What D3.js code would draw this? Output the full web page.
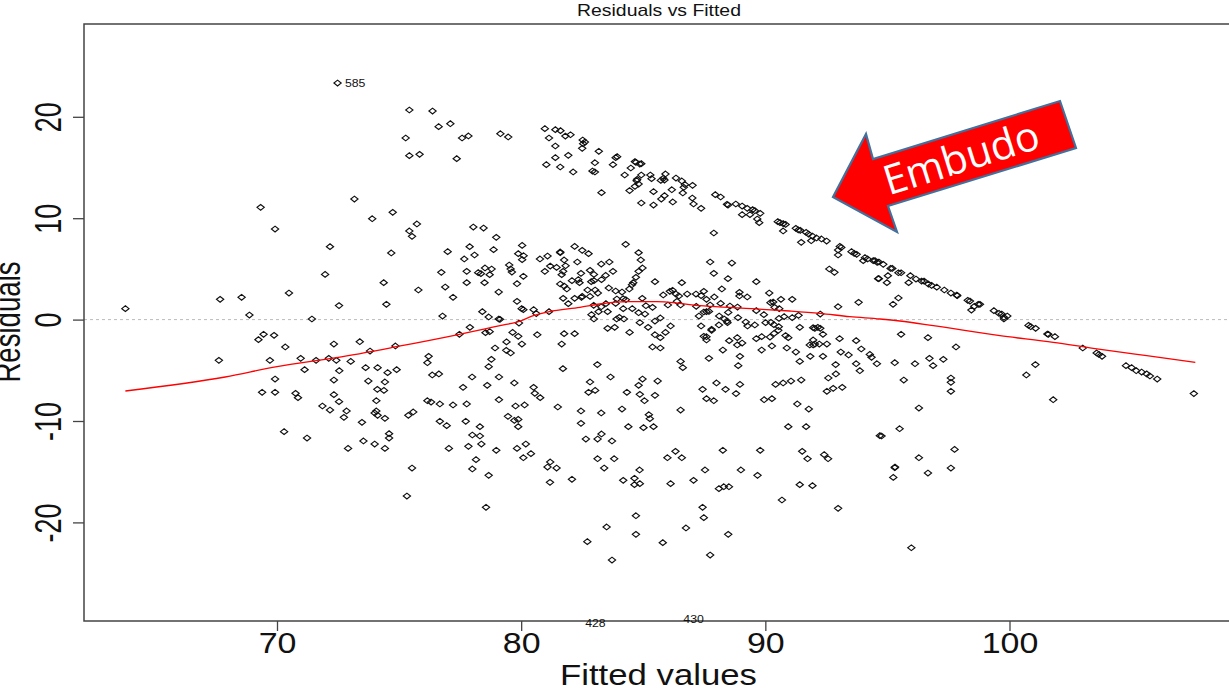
<!DOCTYPE html>
<html>
<head>
<meta charset="utf-8">
<script src="https://d3js.org/d3.v7.min.js"></script>
<style>
  body { margin: 0; background: #fff; }
  text { font-family: "Liberation Sans", Arial, sans-serif; fill: #111; }
</style>
</head>
<body>
<div id="chart"></div>
<script>
var svgWidth = 1229;
var svgHeight = 691;

// [fitted value, residual]
var leftPoints = [
  [72.48,23.33],[75.42,20.67],[76.37,20.57],[76.62,19.03],[77.10,19.32],[75.27,17.91],[77.58,17.91],[77.84,18.11],[79.15,18.33],
  [75.42,16.17],[75.84,16.3],[77.36,15.87],[73.17,11.89],[69.33,11.07],[69.92,8.93],[73.9,9.95],[74.74,10.58],[75.73,9.43],
  [75.42,8.74],[75.53,8.21],[78.04,9.13],[78.46,9.03],[78.98,8.11],[72.17,7.19],[74.68,6.57],[76.99,6.7],[77.89,7.19],[78.09,6.37],
  [77.67,5.98],[78.87,6.9],[71.97,4.46],[76.73,4.66],[77.77,4.76],[78.24,4.63],[78.35,4.53],[78.52,5.09],[78.79,4.99],[78.71,4.43],
  [77.77,3.64],[78.5,3.64],[74.37,3.64],[70.49,2.62],[75.79,2.92],[76.89,3.21],[79.08,2.72],[77.21,2.2],[63.79,1.08],[67.67,2.0],
  [68.55,2.2],[72.54,1.38],[74.48,1.51],[68.87,0.45],[71.43,0.06],[76.78,0.35],[78.41,0.78],[78.67,0.26],[79.08,0.06],
  [77.90,-0.76],[77.47,-1.45],[69.45,-1.45],[69.24,-1.98],[69.88,-1.55],[70.34,-2.7],[72.33,-2.41],[73.39,-2.18],[73.81,-3.1],
  [74.85,-2.6],[78.54,-1.29],[78.71,-1.19],[78.93,-2.8],[67.62,-4.02],[69.71,-4.02],[70.97,-3.82],[71.6,-4.02],[72.12,-3.82],
  [72.43,-4.02],[73.02,-4.12],[71.13,-4.94],[72.55,-5.04],[73.63,-4.74],[74.12,-4.74],[74.53,-5.23],[74.9,-4.94],[76.21,-3.62],
  [76.16,-4.25],[78.78,-3.92],[78.67,-4.64],[69.92,-5.86],[72.33,-5.96],[73.74,-6.06],[74.42,-6.15],[76.36,-5.46],[76.63,-5.36],
  [77.99,-5.66],[79.09,-5.66],[77.62,-6.68],[78.61,-6.48],[74.11,-6.88],[74.38,-6.98],[69.39,-7.17],[69.92,-7.17],[70.76,-7.27],
  [70.86,-7.7],[72.33,-7.4],[74.07,-8.0],[72.54,-8.09],[76.16,-8.0],[76.31,-8.13],[76.67,-8.32],[77.21,-8.42],[77.77,-8.32],
  [79.09,-7.9],[71.86,-8.52],[72.17,-8.92],[72.85,-9.01],[74.07,-9.01],[74.0,-9.21],[74.12,-9.44],[72.74,-9.64],[74.42,-9.74],
  [75.38,-9.44],[75.58,-9.11],[73.48,-10.13],[76.67,-10.03],[76.95,-10.46],[77.73,-10.03],[78.31,-10.56],[70.29,-11.05],[71.23,-11.68],
  [74.59,-11.25],[74.59,-11.68],[73.54,-11.97],[74.0,-12.27],[72.91,-12.7],[74.42,-12.7],[77.04,-12.7],[78.0,-11.38],[78.31,-11.48],
  [77.84,-12.5],[78.37,-12.27],[78.98,-12.89],[78.15,-13.81],[75.53,-14.64],[78.0,-14.73],[78.67,-15.36],[75.32,-17.4],[78.56,-18.51]
];

var upperPoints = [
  [79.47,18.01],[80.97,18.83],[81.4,18.73],[81.61,18.63],[81.81,18.1],[82.02,18.23],[81.14,17.91],[82.52,17.71],[82.61,17.51],
  [82.54,17.35],[81.4,17.12],[82.5,16.89],[83.18,16.6],[81.4,15.97],[81.93,16.2],[81.03,15.28],[81.6,15.05],[82.13,14.56],[83.02,15.47],
  [82.92,14.65],[83.02,14.56],[83.93,16.07],[83.87,15.97],[83.76,15.28],[84.66,15.58],[84.7,15.51],[84.92,15.38],[84.86,15.34],
  [84.49,14.95],[84.24,14.26],[84.92,14.26],[85.29,14.26],[85.34,13.9],[84.75,13.83],[84.73,13.7],[84.81,13.37],[84.66,13.14],
  [84.44,12.72],[85.91,14.36],[85.82,13.93],[85.72,13.73],[85.87,13.76],[86.34,13.96],[86.58,13.67],[87.02,13.24],[86.71,13.31],
  [86.66,13.04],[86.17,12.81],[85.42,12.62],[86.62,12.49],[85.87,12.22],[85.74,11.89],[87.01,11.99],[84.92,11.5],[85.42,11.3],
  [86.21,11.6],[87.06,11.4],[87.37,10.97],[83.29,12.52],[87.95,12.32],[88.17,12.09],[88.43,11.37],[88.47,11.3],[88.79,11.4],
  [89.05,11.2],[89.26,10.97],[89.48,10.84],[89.57,10.74],[89.79,10.48],[89.37,10.35],[89.05,10.35],[89.67,9.92],[89.75,9.56],
  [90.51,9.66],[90.6,9.56],[90.73,9.46],[90.83,9.39],[90.73,8.74],[87.89,8.54],[91.25,9.0],[91.35,8.84],[91.43,8.8],[91.67,8.6],
  [91.77,8.44],[91.93,8.24],[92.1,8.05],[92.3,7.95],[92.51,7.75],[91.88,7.78],[91.47,7.62],[93.05,7.22],[92.98,6.86],[93.11,7.12],
  [92.98,6.37],[93.53,6.7],[93.64,6.53],[93.74,6.44],[94.08,6.11],[94.19,5.98],[94.01,5.81],[94.42,5.81],[94.58,5.65],[92.62,4.99],
  [92.83,4.66],[94.62,4.04]
];

var middlePoints = [
  [80.04,7.32],[79.88,6.5],[80.1,6.3],[80.04,5.91],[80.77,5.98],[81.08,6.27],[81.6,6.67],[81.6,6.6],[82.19,7.22],[82.5,6.83],[82.76,6.5],
  [81.76,5.88],[82.3,5.68],[81.19,5.28],[81.45,5.15],[81.82,5.31],[79.51,5.38],[79.57,4.99],[79.62,4.69],[80.97,4.76],[81.72,4.76],
  [81.66,4.43],[82.45,4.56],[82.82,4.86],[82.98,4.46],[83.28,5.48],[83.61,5.68],[83.76,4.76],[83.46,4.36],[84.28,7.42],[84.81,6.6],
  [84.9,5.88],[84.97,5.09],[84.81,4.76],[84.7,4.17],[80.09,4.27],[79.83,3.54],[82.08,3.84],[82.34,3.94],[82.39,3.64],[82.87,3.74],
  [82.98,3.84],[83.29,3.94],[81.6,3.51],[81.76,3.31],[81.87,3.02],[84.59,3.64],[84.54,3.44],[85.48,3.74],[86.58,3.64],[87.74,5.68],
  [88.63,5.58],[87.89,4.56],[88.47,4.04],[89.63,3.74],[88.22,3.02],[83.59,3.12],[83.87,2.82],[84.13,2.72],[84.43,3.02],[82.72,2.92],
  [83.03,2.92],[82.82,2.29],[83.14,2.62],[82.19,2.1],[82.5,2.29],[82.47,2.2],[81.72,2.1],[81.93,1.57],[79.83,1.8],[80.02,1.08],
  [80.09,0.98],[80.51,0.98],[80.62,0.59],[81.14,0.78],[83.92,2.03],[84.18,2.06],[84.29,1.96],[83.87,1.6],[82.97,1.41],[83.28,1.27],
  [83.47,1.57],[83.17,0.78],[83.54,0.78],[82.88,0.49],[82.98,0.06],[84.18,1.08],[84.55,1.08],[84.81,0.68],[85.07,0.55],[84.96,2.1],
  [85.38,1.21],[85.11,1.37],[83.91,0.06],[84.02,0.22],[84.21,0.06],[84.86,-0.3],[85.2,-0.76],[85.7,0.16],[85.48,-0.14],[85.82,2.43],
  [86.09,2.79],[86.2,2.89],[86.34,2.52],[86.46,2.33],[86.8,2.52],[87.16,2.52],[87.48,2.79],[87.37,2.36],[87.91,2.23],[87.59,2.0],
  [86.53,1.44],[86.01,1.44],[87.17,1.31],[86.38,1.8],[87.74,1.44],[88.17,1.6],[88.55,1.34],[88.94,2.69],[88.94,2.33],[89.26,2.23],
  [88.86,1.24],[90.16,2.62],[90.64,2.0],[91.1,2.0],[90.32,1.73],[90.21,1.67],[90.38,1.21],[90.57,1.08],[89.63,0.88],[89.94,0.49],
  [92.98,1.27],[93.82,1.7],[92.25,0.55],[87.48,0.75],[87.69,0.81],[87.28,0.35],[87.59,0.78],[88.11,0.35],[88.48,0.71],[88.32,0.06],
  [88.43,-0.14],[88.88,0.19],[89.2,-0.24],[89.57,-0.53],[90.01,-0.3],[90.23,-0.27],[90.56,0.12],[90.77,0.29],[91.1,0.19],[91.36,0.42],
  [87.37,-0.63],[86.12,-0.63],[79.13,0.03],[79.91,-0.34],[83.54,-0.86],[83.83,-0.76],[87.8,-0.96],[88.1,-0.53],[88.45,-0.3],[89.27,-0.63],
  [90.35,-0.5],[90.55,-0.7],[91.41,-0.76],[91.96,-0.8],[92.15,-0.76]
];

var lowerPoints = [
  [79.65,-1.26],[79.88,-1.65],[79.4,-2.2],[80.03,-2.41],[79.39,-3.03],[79.57,-3.29],[80.66,-1.49],[81.76,-1.39],[82.19,-1.39],[81.66,-2.41],
  [81.71,-4.84],[83.12,-4.44],[84.44,-1.26],[85.48,-1.49],[85.7,-1.78],[85.91,-1.26],[85.38,-2.7],[85.7,-2.8],[86.53,-4.12],[86.62,-4.74],
  [87.59,-1.69],[87.48,-1.65],[87.59,-2.01],[87.8,-1.06],[87.69,-3.82],[88.52,-2.08],[88.85,-1.78],[89.05,-2.31],[88.85,-2.5],[88.26,-3.0],
  [88.96,-3.62],[88.89,-4.54],[89.63,-1.88],[89.85,-1.68],[90.19,-1.72],[89.85,-3.0],[90.27,-2.6],[90.36,-1.36],[90.53,-1.06],[90.83,-1.58],
  [90.94,-1.78],[90.88,-2.8],[91.25,-3.2],[91.41,-4.12],[91.84,-3.62],[92.36,-3.62],[92.36,-1.45],[92.03,-0.86],[92.25,-0.86],[91.96,-2.01],
  [91.82,-2.5],[92.03,-2.41],[92.21,-2.41],[91.96,-2.5],[92.52,-2.41],[93.04,-1.88],[93.72,-2.08],[93.93,-2.9],[93.09,-3.2],[93.41,-3.49],
  [94.28,-3.43],[94.35,-3.72],[92.88,-4.44],[93.72,-4.35],[94.57,-4.35],[93.87,-5.04],[92.89,-5.36],[92.58,-5.76],[93.15,-6.68],[92.78,-6.78],
  [92.52,-7.07],[91.47,-5.96],[91.05,-6.06],[90.73,-6.25],[90.42,-6.39],[89.95,-7.9],[90.27,-7.8],[91.31,-8.32],[91.78,-8.82],[90.94,-10.56],
  [91.67,-10.56],[94.69,-11.45],[89.79,-12.89],[88.26,-12.89],[91.51,-12.99],[91.73,-13.72],[92.41,-13.32],[92.57,-13.72],[89.0,-14.83],
  [89.68,-15.36],[91.41,-16.28],[91.93,-16.38],[90.68,-17.79],[92.98,-18.61],[88.0,-6.25],[88.37,-6.88],[88.96,-6.39],[88.8,-7.3],[87.43,-6.88],
  [87.59,-7.8],[87.89,-8.0],[86.53,-8.92],[79.72,-6.25],[80.51,-6.68],[80.56,-7.27],[80.78,-7.7],[79.77,-8.52],[80.14,-8.42],[81.5,-8.62],
  [79.46,-9.54],[79.72,-9.94],[79.88,-9.84],[79.88,-10.56],[82.45,-9.01],[82.45,-10.23],[83.28,-9.21],[82.82,-6.15],[82.76,-7.17],[83.03,-6.98],
  [83.66,-5.66],[84.81,-6.48],[84.97,-5.86],[85.59,-6.06],[84.33,-7.17],[84.86,-7.37],[85.05,-8.0],[85.48,-7.47],[84.13,-8.82],[85.23,-9.38],
  [85.27,-9.77],[84.39,-10.56],[85.01,-10.66],[85.42,-10.56],[83.29,-11.28],[83.13,-11.78],[82.65,-11.78],[83.72,-11.97],[80.19,-12.27],
  [79.83,-12.7],[80.4,-13.22],[80.09,-13.62],[81.19,-14.04],[81.08,-14.54],[81.45,-14.64],[81.18,-16.05],[82.08,-15.75],[83.13,-13.72],
  [83.81,-13.72],[83.4,-14.64],[84.85,-14.83],[84.18,-15.85],[84.64,-15.65],[84.64,-16.28],[84.86,-16.18],[85.99,-13.62],[86.32,-12.99],
  [86.58,-13.62],[87.53,-14.83],[87.06,-15.85],[86.12,-16.18],[88.1,-16.67],[88.3,-16.48],[88.51,-16.48],[87.43,-18.51],[87.48,-19.53],
  [84.7,-19.34],[84.7,-21.18],[83.5,-20.45],[86.75,-20.55],[88.48,-21.18],[82.71,-21.9],[85.8,-22.0],[87.74,-23.22],[83.72,-23.71]
];

var rightPoints = [
  [95.2,5.05],[95.13,5.05],[95.45,4.62],[95.56,4.62],[95.94,4.33],[96.17,4.0],[96.4,3.8],[96.5,3.8],[96.68,3.5],[96.81,3.37],[97.02,3.2],
  [97.33,2.92],[97.6,2.62],[97.86,2.36],[97.84,2.42],[98.29,1.9],[98.38,1.83],[98.79,1.51],[98.72,1.51],[98.56,1.31],[98.44,0.94],
  [99.36,0.88],[99.57,0.61],[99.68,0.55],[99.91,0.35],[99.77,0.22],[94.65,4.04],[95.02,4.33],[94.98,3.64],[95.87,3.64],[95.45,2.13],
  [95.23,1.51],[94.65,5.68],[94.83,5.45],[94.49,5.81],[99.77,0.06],[95.56,-1.45],[96.66,-1.78],[97.81,-2.7],[100.78,-0.57],[100.87,-0.7],
  [101.07,-0.86],[101.55,-1.42],[101.59,-1.45],[101.86,-1.68],[103.0,-2.8],[103.57,-3.29],[103.66,-3.43],[103.79,-3.62],[104.77,-4.54],
  [105.0,-4.74],[105.19,-5.04],[105.41,-5.17],[105.62,-5.36],[105.75,-5.56],[106.05,-5.86],[107.55,-7.3],[101.06,-4.44],[100.69,-5.46],
  [101.79,-7.9],[95.3,-4.25],[96.13,-4.35],[96.72,-3.82],[96.87,-4.54],[97.29,-3.92],[95.67,-5.96],[97.6,-5.76],[97.6,-6.19],[97.6,-7.07],
  [96.29,-8.72],[95.5,-10.76],[94.76,-11.48],[97.75,-12.8],[96.29,-13.62],[97.6,-14.64],[96.66,-15.13],[95.31,-14.54],[95.3,-14.6],
  [95.24,-15.56],[95.98,-22.5]
];

// the red smoother
var smoothLine = [
  [63.79,-7.04],[67.88,-5.66],[70,-4.64],[72.44,-3.75],[74.83,-2.7],[77.47,-1.45],[79.13,-0.6],[79.95,-0.14],[80.5,0.39],[81.14,0.78],
  [82.41,1.21],[83.23,1.54],[84.32,1.77],[85.55,1.77],[86.5,1.6],[87.32,1.37],[88.68,1.18],[89.64,1.05],[91.0,0.85],[92.23,0.62],
  [93.46,0.29],[94.69,0.06],[95.51,-0.14],[96.88,-0.6],[99.61,-1.59],[101.79,-2.24],[103.43,-2.83],[105.62,-3.56],[107.61,-4.21]
];

var xTicks = [70, 80, 90, 100];
var yTicks = [-20, -10, 0, 10, 20];

// outlier ids: [id, fitted, residual]
var outlierLabels = [["585", 73.2, 23.3], ["428", 83.04, -30.0], ["430", 87.06, -29.6]];

var arrowOutline = [[833,197],[866,134],[873,159],[1060,101],[1076,148],[888,206],[897,232]];

var allPoints = leftPoints.concat(upperPoints, middlePoints, lowerPoints, rightPoints);

var boxLeft = 84, boxTop = 24, boxBottom = 621;
// the picture was stretched sideways, so its text is too
var stretch = 1.17;
var stretchRotated = 1.37;

var svg = d3.select("#chart")
  .append("svg")
  .attr("width", svgWidth)
  .attr("height", svgHeight)
  .style("display", "block");

var xScale = d3.scaleLinear().domain([70, 100]).range([277, 1009.5]);
var yScale = d3.scaleLinear().domain([20, -20]).range([116.8, 522.4]);

// zero reference
svg.append("line")
  .attr("x1", boxLeft).attr("x2", svgWidth)
  .attr("y1", yScale(0)).attr("y2", yScale(0))
  .attr("stroke", "#bbb")
  .attr("stroke-dasharray", "3,3");

// points
var diamond = d3.symbol().type(d3.symbolDiamond2).size(16);
svg.append("g").selectAll("path")
  .data(allPoints)
  .enter()
  .append("path")
  .attr("d", diamond)
  .attr("transform", d => `translate(${xScale(d[0])},${yScale(d[1])}) scale(1.45,1.15)`)
  .attr("fill", "none")
  .attr("stroke", "#111")
  .attr("stroke-width", 1.15)
  .attr("vector-effect", "non-scaling-stroke");

// smoother
var line = d3.line().x(d => xScale(d[0])).y(d => yScale(d[1])).curve(d3.curveMonotoneX);
svg.append("path")
  .attr("d", line(smoothLine))
  .attr("fill", "none")
  .attr("stroke", "#f00")
  .attr("stroke-width", 1.3);

// box, runs off the right side
svg.append("path")
  .attr("d", `M${svgWidth + 5},${boxTop}H${boxLeft}V${boxBottom}H${svgWidth + 5}`)
  .attr("fill", "none")
  .attr("stroke", "#444")
  .attr("stroke-width", 1.5);

// axes
var xAxis = svg.append("g")
  .attr("transform", `translate(0,${boxBottom})`)
  .call(d3.axisBottom(xScale).tickValues(xTicks).tickSize(10).tickFormat(d3.format("d")));
xAxis.select(".domain").remove();
xAxis.selectAll("line").attr("stroke", "#444").attr("stroke-width", 1.3);
xAxis.selectAll("text")
  .attr("font-size", 29)
  .attr("y", 0)
  .attr("dy", 0)
  .attr("text-anchor", "middle")
  .attr("transform", `translate(0,31.5) scale(${stretch},1)`);

var yAxis = svg.append("g")
  .attr("transform", `translate(${boxLeft},0)`)
  .call(d3.axisLeft(yScale).tickValues(yTicks).tickSize(11).tickFormat(d => String(d)));
yAxis.select(".domain").remove();
yAxis.selectAll("line").attr("stroke", "#444").attr("stroke-width", 1.3);
yAxis.selectAll("text")
  .attr("font-size", 27)
  .attr("x", 0)
  .attr("y", 0)
  .attr("dy", 0)
  .attr("text-anchor", "middle")
  .attr("transform", `translate(-23,0) scale(${stretchRotated},1) rotate(-90)`);

// titles
svg.append("text")
  .attr("transform", `translate(659,16) scale(${stretch},1)`)
  .attr("text-anchor", "middle")
  .attr("font-size", 16.6)
  .text("Residuals vs Fitted");
svg.append("text")
  .attr("transform", `translate(658.5,685) scale(${stretch},1)`)
  .attr("text-anchor", "middle")
  .attr("font-size", 29.7)
  .text("Fitted values");
svg.append("text")
  .attr("transform", `translate(20,322) scale(${stretchRotated},1) rotate(-90)`)
  .attr("text-anchor", "middle")
  .attr("font-size", 27.6)
  .text("Residuals");

// outlier ids
svg.append("g").selectAll("text")
  .data(outlierLabels)
  .enter()
  .append("text")
  .attr("transform", d => `translate(${xScale(d[1])},${yScale(d[2]) + 3.5}) scale(${stretch},1)`)
  .attr("text-anchor", "middle")
  .attr("font-size", 10.5)
  .attr("fill", "#333")
  .text(d => d[0]);

// Embudo arrow
svg.append("polygon")
  .attr("points", arrowOutline.join(" "))
  .attr("fill", "#f00")
  .attr("stroke", "#41719c")
  .attr("stroke-width", 2.2);
svg.append("text")
  .attr("transform", "translate(965.5,171.5) rotate(-17.4)")
  .attr("text-anchor", "middle")
  .attr("font-size", 41)
  .style("font-family", "'Open Sans', sans-serif")
  .style("fill", "#fff")
  .text("Embudo");
</script>
</body>
</html>
